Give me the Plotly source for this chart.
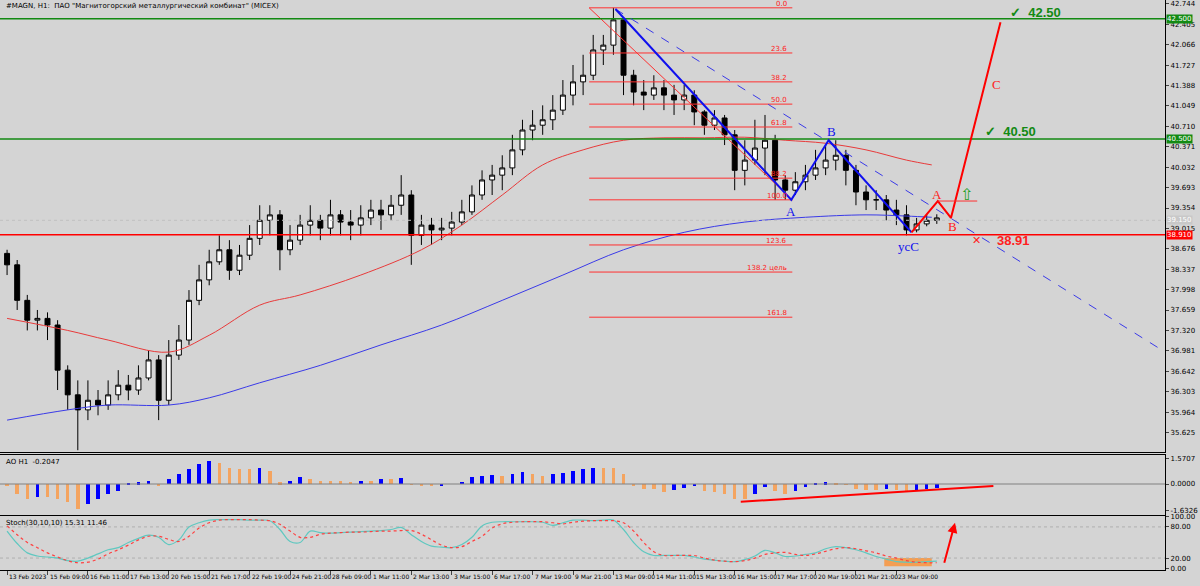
import plotly.graph_objects as go

# ---------------- data ----------------
x_labels = ["13 Feb 2023", "15 Feb 09:00", "16 Feb 11:00", "17 Feb 13:00", "20 Feb 15:00",
            "21 Feb 17:00", "22 Feb 19:00", "24 Feb 21:00", "28 Feb 09:00", "1 Mar 11:00",
            "2 Mar 13:00", "3 Mar 15:00", "6 Mar 17:00", "7 Mar 19:00", "9 Mar 21:00",
            "13 Mar 09:00", "14 Mar 11:00", "15 Mar 13:00", "16 Mar 15:00", "17 Mar 17:00",
            "20 Mar 19:00", "21 Mar 21:00", "23 Mar 09:00"]

close = [38.41, 37.82, 37.49, 37.52, 37.41, 36.66, 36.25, 36.00, 36.16, 36.08,
         36.25, 36.41, 36.33, 36.53, 36.83, 36.16, 36.91, 37.16, 37.82, 38.16,
         38.46, 38.66, 38.32, 38.57, 38.85, 39.15, 39.24, 38.66, 38.82, 39.07,
         39.15, 39.02, 39.24, 39.12, 39.07, 39.19, 39.32, 39.24, 39.40, 39.57,
         38.90, 39.07, 38.99, 39.02, 39.12, 39.29, 39.57, 39.82, 39.90, 40.02,
         40.32, 40.65, 40.73, 40.82, 40.98, 41.23, 41.45, 41.56, 41.98, 42.06,
         42.48, 41.56, 41.28, 41.23, 41.35, 41.23, 41.15, 41.23, 40.95, 40.73,
         40.85, 40.57, 39.98, 40.15, 40.35, 40.48, 39.82, 39.65, 39.79, 39.90,
         40.02, 40.15, 40.23, 39.98, 39.62, 39.49, 39.49, 39.32, 39.24, 38.99,
         39.09, 39.15, 39.19]
high = [38.66, 38.49, 37.91, 37.66, 37.62, 37.49, 36.74, 36.49, 36.49, 36.33,
        36.49, 36.66, 36.58, 36.74, 36.99, 36.91, 37.16, 37.41, 37.99, 38.41,
        38.66, 38.90, 38.82, 38.74, 39.07, 39.40, 39.40, 39.32, 39.07, 39.24,
        39.40, 39.24, 39.49, 39.32, 39.32, 39.40, 39.49, 39.49, 39.57, 39.90,
        39.65, 39.24, 39.19, 39.19, 39.29, 39.49, 39.73, 39.98, 40.07, 40.23,
        40.57, 40.82, 40.98, 41.06, 41.23, 41.48, 41.73, 41.90, 42.23, 42.23,
        42.68, 42.31, 41.65, 41.48, 41.56, 41.48, 41.40, 41.40, 41.31, 40.98,
        40.98, 40.90, 40.65, 40.48, 40.82, 40.90, 40.57, 39.90, 39.95, 40.07,
        40.32, 40.40, 40.48, 40.32, 40.07, 39.73, 39.65, 39.57, 39.49, 39.40,
        39.19, 39.25, 39.25]
low = [38.24, 37.66, 37.32, 37.32, 37.16, 36.33, 36.00, 35.33, 35.83, 35.91,
       36.00, 36.16, 36.16, 36.25, 36.49, 35.83, 36.08, 36.83, 37.08, 37.74,
       38.07, 38.41, 38.16, 38.24, 38.49, 38.74, 38.90, 38.32, 38.57, 38.74,
       38.90, 38.82, 38.90, 38.90, 38.82, 38.90, 39.07, 38.99, 39.15, 39.24,
       38.41, 38.74, 38.74, 38.82, 38.90, 39.07, 39.24, 39.49, 39.57, 39.65,
       39.90, 40.23, 40.48, 40.57, 40.65, 40.90, 41.06, 41.23, 41.48, 41.73,
       41.90, 41.23, 41.06, 40.98, 41.15, 40.98, 40.90, 40.98, 40.73, 40.57,
       40.65, 40.40, 39.65, 39.73, 40.07, 39.90, 39.49, 39.49, 39.57, 39.65,
       39.82, 39.90, 39.98, 39.73, 39.40, 39.32, 39.32, 39.15, 39.07, 38.90,
       38.95, 39.05, 39.09]
first_open = 38.60

ma_red_idx = [0, 6, 10, 16, 20, 25, 29, 35, 41, 45, 49, 53, 57, 61, 65, 69, 73, 77, 81, 85, 89, 91.5]
ma_red_val = [37.52, 37.32, 37.16, 36.96, 37.24, 37.74, 37.91, 38.24, 38.66, 39.07, 39.57,
              40.07, 40.32, 40.48, 40.52, 40.52, 40.53, 40.48, 40.43, 40.32, 40.15, 40.07]
ma_blue_idx = [0, 6, 10, 16, 20, 25, 31, 37, 43, 49, 55, 61, 67, 73, 79, 85, 89, 91.5]
ma_blue_val = [35.83, 36.00, 36.08, 36.08, 36.20, 36.45, 36.74, 37.08, 37.41, 37.82, 38.24,
               38.66, 38.95, 39.12, 39.20, 39.24, 39.22, 39.20]

ao = [-0.1, -0.6, -0.9, -0.8, -0.8, -0.9, -1.1, -1.5, -1.2, -0.9,
      -0.6, -0.4, 0.05, 0.1, 0.2, -0.1, 0.3, 0.6, 0.9, 1.2,
      1.4, 1.3, 1.0, 0.9, 0.9, 1.0, 0.8, 0.1, 0.2, 0.4,
      0.3, 0.2, 0.2, 0.2, 0.15, 0.2, 0.2, 0.3, 0.3, 0.35,
      -0.05, -0.15, -0.15, -0.1, 0.0, 0.15, 0.4, 0.5, 0.55, 0.5,
      0.6, 0.75, 0.6, 0.5, 0.6, 0.7, 0.8, 0.9, 1.0, 1.0,
      0.95, 0.6, -0.1, -0.3, -0.3, -0.5, -0.35, -0.25, -0.15, -0.45,
      -0.5, -0.6, -0.9, -0.9, -0.6, -0.2, -0.4, -0.6, -0.45, -0.2,
      0.05, 0.1, 0.05, -0.05, -0.3, -0.35, -0.35, -0.3, -0.35, -0.4,
      -0.35, -0.3, -0.25]

stoch_k = [72, 48, 30, 24, 22, 20, 15, 14, 20, 28, 36, 40, 50, 58, 64, 60, 46, 55, 80, 88,
           93, 94, 94, 94, 93, 93, 92, 75, 52, 50, 72, 69, 68, 69, 70, 71, 72, 73, 75, 79,
           65, 52, 43, 41, 40, 46, 60, 82, 89, 90, 90, 90, 90, 89, 83, 88, 93, 93, 92, 93,
           93, 75, 50, 32, 25, 25, 25, 25, 22, 18, 16, 14, 13, 17, 24, 35, 30, 23, 24, 27,
           30, 38, 42, 40, 36, 30, 23, 18, 13, 12, 12, 13, 14]
stoch_d = [82, 65, 50, 40, 30, 22, 15, 11, 12, 18, 28, 36, 45, 55, 62, 62, 56, 52, 62, 78,
           88, 93, 94, 94, 94, 93, 92, 85, 72, 60, 60, 66, 68, 69, 70, 70, 71, 72, 72, 73,
           73, 66, 55, 45, 40, 42, 52, 62, 78, 86, 89, 90, 90, 90, 88, 86, 89, 91, 92, 92,
           92, 88, 72, 50, 32, 25, 25, 25, 25, 20, 16, 14, 13, 15, 20, 27, 30, 31, 27, 25,
           28, 33, 38, 40, 38, 34, 30, 24, 20, 15, 12, 11, 11]

price_ticks = [35.625, 35.964, 36.303, 36.642, 36.981, 37.320, 37.659, 37.998, 38.337, 38.676,
               39.015, 39.354, 39.693, 40.032, 40.371, 40.710, 41.049, 41.388, 41.727, 42.066,
               42.405, 42.744]
fib_levels = [42.68, 41.93, 41.45, 41.08, 40.70, 39.85, 39.49, 38.74, 38.29, 37.54]
fib_names = ["0.0", "23.6", "38.2", "50.0", "61.8", "88.2", "100.0", "123.6", "138.2 цель", "161.8"]
fib_span = [57.6, 77.7]
blue_wave_i = [60.2, 77.6, 81.3, 89.5]
blue_wave_p = [42.66, 39.49, 40.48, 38.95]
red_wave_i = [89.5, 92.1, 93.4, 98.3]
red_wave_p = [38.95, 39.47, 39.19, 42.44]
level_target1, level_target2, level_stop, last_price = 42.50, 40.50, 38.91, 39.15

# ---------------- figure ----------------
n = len(close)
idx = list(range(n))
opens = [first_open] + close[:-1]
hi = [max(h, o, c) for h, o, c in zip(high, opens, close)]
lo = [min(l, o, c) for l, o, c in zip(low, opens, close)]

fig = go.Figure()
BG = "#d4d4d4"
XR = [-0.7, 114.6]
XD = [0, 0.971]

fig.add_trace(go.Candlestick(x=idx, open=opens, high=hi, low=lo, close=close,
    increasing=dict(line=dict(color="black", width=1), fillcolor="white"),
    decreasing=dict(line=dict(color="black", width=1), fillcolor="black"),
    whiskerwidth=0, xaxis="x", yaxis="y", showlegend=False, hoverinfo="skip"))
fig.add_trace(go.Scatter(x=ma_red_idx, y=ma_red_val, mode="lines", line=dict(color="#e83a3a", width=1, shape="spline"),
                         xaxis="x", yaxis="y", showlegend=False))
fig.add_trace(go.Scatter(x=ma_blue_idx, y=ma_blue_val, mode="lines", line=dict(color="#3a3ae8", width=1, shape="spline"),
                         xaxis="x", yaxis="y", showlegend=False))
for lv, nm in zip(fib_levels, fib_names):
    fig.add_trace(go.Scatter(x=fib_span, y=[lv, lv], mode="lines", line=dict(color="#ff3030", width=1),
                             xaxis="x", yaxis="y", showlegend=False))
    fig.add_annotation(x=fib_span[1] - 0.3, y=lv, text=nm, showarrow=False, xanchor="right", yanchor="bottom",
                       font=dict(size=7, color="#ff2020", family="DejaVu Sans"), xref="x", yref="y", yshift=-2)
fig.add_trace(go.Scatter(x=[fib_span[0], fib_span[1]], y=[fib_levels[0], fib_levels[6]], mode="lines",
                         line=dict(color="#ff3030", width=1), xaxis="x", yaxis="y", showlegend=False))
for lv, col in [(level_target1, "#138a13"), (level_target2, "#138a13"), (level_stop, "#ff0000")]:
    fig.add_trace(go.Scatter(x=XR, y=[lv, lv], mode="lines", line=dict(color=col, width=1.5),
                             xaxis="x", yaxis="y", showlegend=False))
fig.add_trace(go.Scatter(x=XR, y=[last_price, last_price], mode="lines", line=dict(color="#c0c0c0", width=1, dash="dot"),
                         xaxis="x", yaxis="y", showlegend=False))
fig.add_trace(go.Scatter(x=[blue_wave_i[0], XR[1]], y=[blue_wave_p[0], 36.96], mode="lines",
                         line=dict(color="#3a3ae8", width=1, dash="dash"), xaxis="x", yaxis="y", showlegend=False))
fig.add_trace(go.Scatter(x=blue_wave_i, y=blue_wave_p, mode="lines", line=dict(color="#1010ee", width=2),
                         xaxis="x", yaxis="y", showlegend=False))
fig.add_trace(go.Scatter(x=red_wave_i, y=red_wave_p, mode="lines", line=dict(color="#ff0000", width=2),
                         xaxis="x", yaxis="y", showlegend=False))
fig.add_trace(go.Scatter(x=[92.1, 96.0], y=[red_wave_p[1], red_wave_p[1]], mode="lines", line=dict(color="#ff3030", width=1),
                         xaxis="x", yaxis="y", showlegend=False))

# AO
ao_col = ["#0000ff" if (i > 0 and v > ao[i - 1]) else "#f4a460" for i, v in enumerate(ao)]
fig.add_trace(go.Bar(x=idx, y=ao, marker=dict(color=ao_col, line=dict(width=0)), width=0.35,
                     xaxis="x2", yaxis="y2", showlegend=False))
fig.add_trace(go.Scatter(x=XR, y=[0, 0], mode="lines", line=dict(color="#808080", width=1),
                         xaxis="x2", yaxis="y2", showlegend=False))
fig.add_trace(go.Scatter(x=[72.6, 97.6], y=[-1.08, -0.12], mode="lines", line=dict(color="#ff0000", width=2),
                         xaxis="x2", yaxis="y2", showlegend=False))

# Stoch
for lv in [20, 80]:
    fig.add_trace(go.Scatter(x=XR, y=[lv, lv], mode="lines", line=dict(color="#b0b0b0", width=1, dash="dot"),
                             xaxis="x3", yaxis="y3", showlegend=False))
fig.add_trace(go.Scatter(x=idx, y=stoch_k, mode="lines", line=dict(color="#5fc8c0", width=1.2, shape="spline"),
                         xaxis="x3", yaxis="y3", showlegend=False))
fig.add_trace(go.Scatter(x=idx, y=stoch_d, mode="lines", line=dict(color="#ff4040", width=1.2, dash="dot", shape="spline"),
                         xaxis="x3", yaxis="y3", showlegend=False))
fig.add_shape(type="rect", x0=86.8, x1=91.5, y0=4, y1=20, xref="x3", yref="y3",
              fillcolor="rgba(255,140,40,0.75)", line=dict(width=0), layer="below")
fig.add_annotation(x=93.8, y=88, ax=92.7, ay=8, xref="x3", yref="y3", axref="x3", ayref="y3",
                   showarrow=True, arrowhead=2, arrowsize=1, arrowwidth=2, arrowcolor="#ff0000", text="")

F = "Liberation Serif"
def ann(x, y, t, c, s=13, fam=F, bold=False, ref="y"):
    fig.add_annotation(x=x, y=y, text=("<b>%s</b>" % t) if bold else t, showarrow=False,
                       font=dict(size=s, color=c, family=fam), xref="x", yref=ref)
ann(77.6, 39.29, "A", "#1010ee")
ann(81.6, 40.63, "B", "#1010ee")
ann(89.2, 38.72, "усC", "#1010ee")
ann(92.0, 39.58, "A", "#ff2020")
ann(93.6, 39.05, "B", "#ff2020")
ann(97.9, 41.40, "C", "#ff2020")
ann(94.9, 39.58, "⇧", "#20a020", s=16, fam="DejaVu Sans")
ann(101.8, 42.61, "✓  42.50", "#138a13", s=13, fam="Liberation Sans", bold=True)
ann(99.3, 40.63, "✓  40.50", "#138a13", s=13, fam="Liberation Sans", bold=True)
ann(95.9, 38.82, "✕", "#ff2020", s=11, fam="DejaVu Sans", bold=True)
ann(99.6, 38.82, "38.91", "#ff2020", s=13, fam="Liberation Sans", bold=True)

for lv, col in [(level_target1, "#138a13"), (level_target2, "#138a13"), (level_stop, "#ff0000"), (last_price, "#c8c8c8")]:
    fig.add_annotation(x=0.972, y=lv, xref="paper", yref="y", text="%.3f" % lv, showarrow=False, xanchor="left",
                       bgcolor=col, font=dict(size=7, color="white", family="DejaVu Sans"), borderpad=0)

for k, lab in enumerate(x_labels):
    fig.add_annotation(x=4 * k, y=0, xref="x3", yref="paper", yanchor="top", xanchor="left", xshift=0, yshift=-1,
                       text=lab, showarrow=False, font=dict(size=6, color="black", family="DejaVu Sans"))

fig.add_annotation(x=0.003, y=1.0, xref="paper", yref="paper", xanchor="left", yanchor="top", showarrow=False,
                   text='#MAGN, H1:  ПАО "Магнитогорский металлургический комбинат" (MICEX)',
                   font=dict(size=7, color="black", family="DejaVu Sans"))
fig.add_annotation(x=0.003, y=0.2, xref="paper", yref="paper", xanchor="left", yanchor="top", showarrow=False,
                   text="AO H1  -0.2047", font=dict(size=7, color="black", family="DejaVu Sans"))
fig.add_annotation(x=0.003, y=0.093, xref="paper", yref="paper", xanchor="left", yanchor="top", showarrow=False,
                   text="Stoch(30,10,10) 15.31 11.46", font=dict(size=7, color="black", family="DejaVu Sans"))

ax_common = dict(showgrid=False, zeroline=False, showline=True, linecolor="black", mirror=True, linewidth=1,
                 automargin=False)
tickfont = dict(size=7, color="black", family="DejaVu Sans")
fig.update_layout(
    width=1200, height=586, margin=dict(l=0, r=0, t=0, b=16, pad=0),
    paper_bgcolor=BG, plot_bgcolor=BG, bargap=0, showlegend=False,
    xaxis=dict(domain=XD, range=XR, anchor="y", showticklabels=False, rangeslider=dict(visible=False), **ax_common),
    xaxis2=dict(domain=XD, range=XR, anchor="y2", showticklabels=False, matches="x", **ax_common),
    xaxis3=dict(domain=XD, range=XR, anchor="y3", tickvals=[4 * k for k in range(len(x_labels))],
                showticklabels=False, ticks="outside", ticklen=4, matches="x", **ax_common),
    yaxis=dict(domain=[0.207, 1], range=[35.30, 42.81], side="right", tickvals=price_ticks,
               ticktext=["%.3f" % v for v in price_ticks], ticks="outside", ticklen=3, tickfont=tickfont, **ax_common),
    yaxis2=dict(domain=[0.0965, 0.2018], range=[-1.89, 1.77], side="right", tickvals=[-1.6326, 0, 1.5707],
                ticktext=["-1.6326", "0.0000", "1.5707"], ticks="outside", ticklen=3, tickfont=tickfont, **ax_common),
    yaxis3=dict(domain=[0, 0.0947], range=[-3, 101], side="right", tickvals=[0, 20, 80, 100],
                ticktext=["0.00", "20.00", "80.00", "100.00"], ticks="outside", ticklen=3, tickfont=tickfont, **ax_common),
)
fig.write_html("out.html", config={"displayModeBar": False},
               post_script="document.body.style.margin='0';document.body.style.overflow='hidden';")
